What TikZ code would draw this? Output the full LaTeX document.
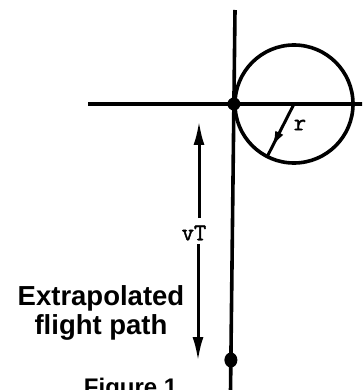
\documentclass[tikz,border=0pt]{standalone}
\usepackage{fontspec}
\setmainfont{Liberation Sans}
\newfontfamily\typew[FakeBold=1.6]{Latin Modern Mono}
\usetikzlibrary{arrows.meta,decorations.markings,shapes.geometric,calc}
\begin{document}
\begin{tikzpicture}[x=1pt,y=-1pt,
  mainline/.style={line width=3.6pt},
  dimarrow/.style={line width=3pt,-{Latex[length=24pt,width=11pt]}},
  dotmark/.style={fill=black,draw=none,ellipse,minimum width=13pt,minimum height=15pt,inner sep=0pt},
  boldlabel/.style={font=\fontsize{27.5}{29}\selectfont\bfseries,align=center,inner sep=0pt},
  monolabel/.style={font=\fontsize{24}{24}\selectfont\typew,inner sep=0pt}]
\useasboundingbox[clip] (0,0) rectangle (362,390);
\fill[white] (0,0) rectangle (362,390);
% coordinates
\coordinate (vtop) at (235,10);
\coordinate (vbot) at (230.5,392);
\coordinate (hl) at (88,104);
\coordinate (hr) at (364,104);
\coordinate (C) at (294,104);
\coordinate (R) at ($(C)+(117:59)$);
% lines
\draw[mainline] (vtop) -- (vbot);
\draw[mainline] (hl) -- (hr);
\draw[mainline] (C) circle[radius=59];
% dots
\node[dotmark,minimum width=13pt,minimum height=13pt] (O) at (233.9,104) {};
\node[dotmark] (D) at (230.9,360) {};
% radius arrow
\draw[line width=3pt,
  postaction={decorate},
  decoration={markings,mark=at position 0.82 with {\arrow{Latex[length=16pt,width=9pt]}}}] (C) -- (R);
\node[monolabel] (r) at (300,125) {r};
% vT dimension
\node[monolabel] (vT) at (194,233) {vT};
\coordinate (a1s) at (199,218);
\coordinate (a1e) at (199,121);
\coordinate (a2s) at (198,244);
\coordinate (a2e) at (198,361);
\draw[dimarrow] (a1s) -- (a1e);
\draw[dimarrow] (a2s) -- (a2e);
% labels
\node[boldlabel,anchor=base] (ex) at (101,305) {Extrapolated};
\node[boldlabel,anchor=base] (fp) at (101,334) {flight path};
\node[font=\fontsize{24}{24}\selectfont\bfseries,anchor=base,inner sep=0pt] (fig) at (134,395) {Figure 1.};
\end{tikzpicture}
\end{document}
